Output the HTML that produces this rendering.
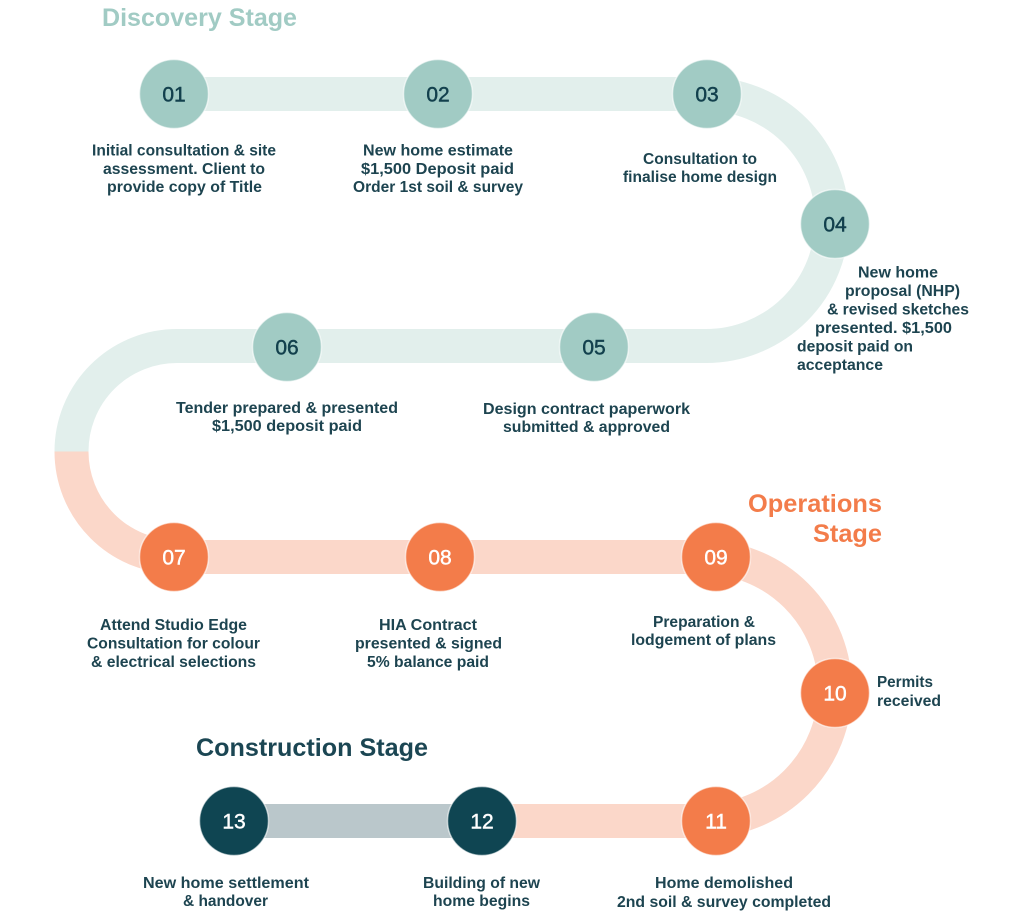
<!DOCTYPE html>
<html>
<head>
<meta charset="utf-8">
<style>
  html,body{margin:0;padding:0;background:#fff;}
  body{width:1024px;height:917px;overflow:hidden;}
  svg{display:block;}
  .lb{font-family:"Liberation Sans",sans-serif;font-weight:bold;font-size:15.5px;fill:#1d4450;}
  .num{font-family:"Liberation Sans",sans-serif;font-size:21px;text-anchor:middle;stroke-width:0.45;}
  .ttl{font-family:"Liberation Sans",sans-serif;font-weight:bold;font-size:25px;}
</style>
</head>
<body>
<svg width="1024" height="917" viewBox="0 0 1024 917" xmlns="http://www.w3.org/2000/svg">
  <!-- tracks -->
  <g fill="none" stroke-width="34">
    <path d="M175 94 H706 A126 126 0 0 1 706 346 H177 A105.5 105.5 0 0 0 71.5 451.5" stroke="#e2efec"/>
    <path d="M71.5 451.5 A105.5 105.5 0 0 0 177 557 H703 A132 132 0 0 1 703 821 H482" stroke="#fbd7c9"/>
    <path d="M482 821 H234" stroke="#bac7cb"/>
  </g>

  <!-- circles -->
  <g stroke="#ffffff" stroke-opacity="0.6" stroke-width="1.5">
    <circle cx="174" cy="94" r="34.5" fill="#a1cbc4"/>
    <circle cx="438" cy="94" r="34.5" fill="#a1cbc4"/>
    <circle cx="707" cy="94" r="34.5" fill="#a1cbc4"/>
    <circle cx="835" cy="224" r="34.5" fill="#a1cbc4"/>
    <circle cx="594" cy="347" r="34.5" fill="#a1cbc4"/>
    <circle cx="287" cy="347" r="34.5" fill="#a1cbc4"/>
    <circle cx="174" cy="557" r="34.5" fill="#f37c4a"/>
    <circle cx="440" cy="557" r="34.5" fill="#f37c4a"/>
    <circle cx="716" cy="557" r="34.5" fill="#f37c4a"/>
    <circle cx="835" cy="693" r="34.5" fill="#f37c4a"/>
    <circle cx="716" cy="821" r="34.5" fill="#f37c4a"/>
    <circle cx="482" cy="821" r="34.5" fill="#0f4552"/>
    <circle cx="234" cy="821" r="34.5" fill="#0f4552"/>
  </g>

  <!-- numbers -->
  <g>
    <text x="174" y="101.5" fill="#12404d" stroke="#12404d" class="num">01</text>
    <text x="438" y="101.5" fill="#12404d" stroke="#12404d" class="num">02</text>
    <text x="707" y="101.5" fill="#12404d" stroke="#12404d" class="num">03</text>
    <text x="835" y="231.5" fill="#12404d" stroke="#12404d" class="num">04</text>
    <text x="594" y="354.5" fill="#12404d" stroke="#12404d" class="num">05</text>
    <text x="287" y="354.5" fill="#12404d" stroke="#12404d" class="num">06</text>
    <text x="174" y="564.5" fill="#ffffff" stroke="#ffffff" class="num">07</text>
    <text x="440" y="564.5" fill="#ffffff" stroke="#ffffff" class="num">08</text>
    <text x="716" y="564.5" fill="#ffffff" stroke="#ffffff" class="num">09</text>
    <text x="835" y="700.5" fill="#ffffff" stroke="#ffffff" class="num">10</text>
    <text x="716" y="828.5" fill="#ffffff" stroke="#ffffff" class="num">11</text>
    <text x="482" y="828.5" fill="#ffffff" stroke="#ffffff" class="num">12</text>
    <text x="234" y="828.5" fill="#ffffff" stroke="#ffffff" class="num">13</text>
  </g>

  <!-- titles -->
  <text class="ttl" x="102" y="26" fill="#a1cbc4" textLength="195" lengthAdjust="spacingAndGlyphs">Discovery Stage</text>
  <text class="ttl" x="748" y="512" fill="#f37c4a" textLength="134" lengthAdjust="spacingAndGlyphs">Operations</text>
  <text class="ttl" x="813" y="542" fill="#f37c4a" textLength="69" lengthAdjust="spacingAndGlyphs">Stage</text>
  <text class="ttl" x="196" y="756" fill="#1b4653" textLength="232" lengthAdjust="spacingAndGlyphs">Construction Stage</text>

  <!-- labels -->
  <g class="lb">
    <!-- 01 -->
    <text x="92" y="155.5" textLength="184" lengthAdjust="spacingAndGlyphs">Initial consultation &amp; site</text>
    <text x="103" y="174" textLength="162" lengthAdjust="spacingAndGlyphs">assessment. Client to</text>
    <text x="107" y="192" textLength="155" lengthAdjust="spacingAndGlyphs">provide copy of Title</text>
    <!-- 02 -->
    <text x="363" y="155.5" textLength="150" lengthAdjust="spacingAndGlyphs">New home estimate</text>
    <text x="361" y="174" textLength="153" lengthAdjust="spacingAndGlyphs">$1,500 Deposit paid</text>
    <text x="353" y="192" textLength="170" lengthAdjust="spacingAndGlyphs">Order 1st soil &amp; survey</text>
    <!-- 03 -->
    <text x="643" y="164" textLength="114" lengthAdjust="spacingAndGlyphs">Consultation to</text>
    <text x="623" y="182" textLength="154" lengthAdjust="spacingAndGlyphs">finalise home design</text>
    <!-- 04 -->
    <text x="858" y="277.5" textLength="80" lengthAdjust="spacingAndGlyphs">New home</text>
    <text x="845" y="296" textLength="115" lengthAdjust="spacingAndGlyphs">proposal (NHP)</text>
    <text x="827" y="314.5" textLength="142" lengthAdjust="spacingAndGlyphs">&amp; revised sketches</text>
    <text x="815" y="333" textLength="137" lengthAdjust="spacingAndGlyphs">presented. $1,500</text>
    <text x="797" y="351.5" textLength="116" lengthAdjust="spacingAndGlyphs">deposit paid on</text>
    <text x="797" y="370" textLength="86" lengthAdjust="spacingAndGlyphs">acceptance</text>
    <!-- 05 -->
    <text x="483" y="414" textLength="207" lengthAdjust="spacingAndGlyphs">Design contract paperwork</text>
    <text x="503" y="432" textLength="167" lengthAdjust="spacingAndGlyphs">submitted &amp; approved</text>
    <!-- 06 -->
    <text x="176" y="413" textLength="222" lengthAdjust="spacingAndGlyphs">Tender prepared &amp; presented</text>
    <text x="212" y="431" textLength="150" lengthAdjust="spacingAndGlyphs">$1,500 deposit paid</text>
    <!-- 07 -->
    <text x="100" y="630" textLength="147" lengthAdjust="spacingAndGlyphs">Attend Studio Edge</text>
    <text x="87" y="648.5" textLength="173" lengthAdjust="spacingAndGlyphs">Consultation for colour</text>
    <text x="91" y="667" textLength="165" lengthAdjust="spacingAndGlyphs">&amp; electrical selections</text>
    <!-- 08 -->
    <text x="379" y="630" textLength="98" lengthAdjust="spacingAndGlyphs">HIA Contract</text>
    <text x="355" y="648.5" textLength="147" lengthAdjust="spacingAndGlyphs">presented &amp; signed</text>
    <text x="367" y="667" textLength="122" lengthAdjust="spacingAndGlyphs">5% balance paid</text>
    <!-- 09 -->
    <text x="653" y="627" textLength="102" lengthAdjust="spacingAndGlyphs">Preparation &amp;</text>
    <text x="631" y="645" textLength="145" lengthAdjust="spacingAndGlyphs">lodgement of plans</text>
    <!-- 10 -->
    <text x="877" y="687" textLength="56" lengthAdjust="spacingAndGlyphs">Permits</text>
    <text x="877" y="706" textLength="64" lengthAdjust="spacingAndGlyphs">received</text>
    <!-- 11 -->
    <text x="655" y="888" textLength="138" lengthAdjust="spacingAndGlyphs">Home demolished</text>
    <text x="617" y="907" textLength="214" lengthAdjust="spacingAndGlyphs">2nd soil &amp; survey completed</text>
    <!-- 12 -->
    <text x="423" y="888" textLength="117" lengthAdjust="spacingAndGlyphs">Building of new</text>
    <text x="433" y="906" textLength="97" lengthAdjust="spacingAndGlyphs">home begins</text>
    <!-- 13 -->
    <text x="143" y="888" textLength="166" lengthAdjust="spacingAndGlyphs">New home settlement</text>
    <text x="183" y="906" textLength="85" lengthAdjust="spacingAndGlyphs">&amp; handover</text>
  </g>
</svg>
</body>
</html>
